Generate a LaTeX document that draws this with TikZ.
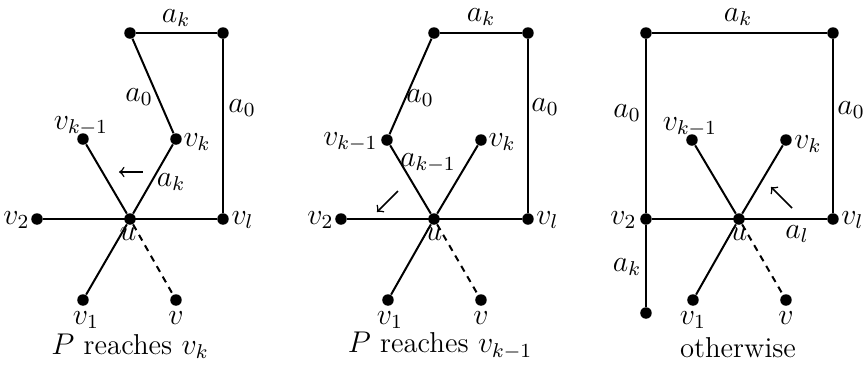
\documentclass[tikz,border=0pt]{standalone}
\usepackage{amsmath}
\usepackage{amssymb}
\usepackage{tikz}
\begin{document}
\begin{tikzpicture}[x=0.4pt,y=-0.4pt]
	 \tikzstyle{vertex}=[circle,fill=black,inner sep=0pt,minimum size=4.6pt]
	 \tikzstyle{edge} = [draw,thick,-,black]
	 \tikzstyle{dashedge} = [draw,thick,black,dash pattern=on 2.6pt off 2.2pt]
	 \tikzstyle{move} = [draw,semithick,->,black]
	 \tikzstyle{lbl} = [inner sep=0pt,font=\fontsize{12}{14}\selectfont]
	 \tikzstyle{caption} = [inner sep=0pt,font=\fontsize{11.5}{14}\selectfont]
	 \useasboundingbox (0,0) rectangle (863,374);
	 % P reaches v_k
	 \node[vertex] (ua) at (130,219) {};
	 \node[vertex] (v2a) at (37,219) {};
	 \node[vertex] (vla) at (223,219) {};
	 \node[vertex] (ta) at (130,33) {};
	 \node[vertex] (sa) at (223,33) {};
	 \node[vertex] (vka) at (176,139) {};
	 \node[vertex] (vkma) at (83,139) {};
	 \node[vertex] (v1a) at (83,300) {};
	 \node[vertex] (va) at (176,300) {};
	 \draw[edge] (ta) -- (sa) -- (vla);
	 \draw[edge] (ta) -- (vka) -- (ua);
	 \draw[edge] (vkma) -- (ua) -- (v1a);
	 \draw[edge] (v2a) -- (vla);
	 \draw[dashedge] (ua) -- (va);
	 \coordinate (pa) at (143,172);
	 \coordinate (qa) at (119,172);
	 \draw[move] (pa) -- (qa);
	 \node[lbl] (aka) at (176,18) {$a_k$};
	 \node[lbl] (a0a) at (139,97) {$a_0$};
	 \node[lbl] (a0ra) at (242,108) {$a_0$};
	 \node[lbl] (akla) at (171,182) {$a_k$};
	 \node[lbl] (tvkma) at (81,126) {$v_{k-1}$};
	 \node[lbl,anchor=west] (tvka) at (183,142) {$v_k$};
	 \node[lbl,anchor=east] (tv2a) at (30,220) {$v_2$};
	 \node[lbl,anchor=west] (tvla) at (231,220) {$v_l$};
	 \node[lbl] (tua) at (128,234) {$u$};
	 \node[lbl] (tv1a) at (86,320) {$v_1$};
	 \node[lbl] (tva) at (176,318) {$v$};
	 \node[caption] (capa) at (130,346) {$P$ reaches $v_k$};
	 % P reaches v_{k-1}
	 \node[vertex] (ub) at (434,219) {};
	 \node[vertex] (v2b) at (341,219) {};
	 \node[vertex] (vlb) at (528,219) {};
	 \node[vertex] (tb) at (434,33) {};
	 \node[vertex] (sb) at (528,33) {};
	 \node[vertex] (vkmb) at (387,140) {};
	 \node[vertex] (vkb) at (481,140) {};
	 \node[vertex] (v1b) at (388,300) {};
	 \node[vertex] (vb) at (481,300) {};
	 \draw[edge] (tb) -- (sb) -- (vlb);
	 \draw[edge] (tb) -- (vkmb) -- (ub);
	 \draw[edge] (vkb) -- (ub) -- (v1b);
	 \draw[edge] (v2b) -- (vlb);
	 \draw[dashedge] (ub) -- (vb);
	 \coordinate (pb) at (398,191);
	 \coordinate (qb) at (377,212);
	 \draw[move] (pb) -- (qb);
	 \node[lbl] (akb) at (481,17) {$a_k$};
	 \node[lbl] (a0b) at (420,98) {$a_0$};
	 \node[lbl] (a0rb) at (545,107) {$a_0$};
	 \node[lbl] (akmb) at (428,163) {$a_{k-1}$};
	 \node[lbl,anchor=east] (tvkmb) at (378,142) {$v_{k-1}$};
	 \node[lbl,anchor=west] (tvkb) at (488,142) {$v_k$};
	 \node[lbl,anchor=east] (tv2b) at (334,220) {$v_2$};
	 \node[lbl,anchor=west] (tvlb) at (536,220) {$v_l$};
	 \node[lbl] (tub) at (434,234) {$u$};
	 \node[lbl] (tv1b) at (390,320) {$v_1$};
	 \node[lbl] (tvb) at (481,318) {$v$};
	 \node[caption] (capb) at (440,346) {$P$ reaches $v_{k-1}$};
	 % otherwise
	 \node[vertex] (uc) at (739,219) {};
	 \node[vertex] (v2c) at (646,219) {};
	 \node[vertex] (vlc) at (833,219) {};
	 \node[vertex] (tc) at (646,33) {};
	 \node[vertex] (sc) at (833,33) {};
	 \node[vertex] (bc) at (646,313) {};
	 \node[vertex] (vkmc) at (692,140) {};
	 \node[vertex] (vkc) at (786,140) {};
	 \node[vertex] (v1c) at (693,300) {};
	 \node[vertex] (vc) at (786,300) {};
	 \draw[edge] (tc) -- (sc) -- (vlc);
	 \draw[edge] (tc) -- (v2c) -- (bc);
	 \draw[edge] (v2c) -- (vlc);
	 \draw[edge] (vkmc) -- (uc);
	 \draw[edge] (vkc) -- (uc) -- (v1c);
	 \draw[dashedge] (uc) -- (vc);
	 \coordinate (pc) at (792,208);
	 \coordinate (qc) at (771,187);
	 \draw[move] (pc) -- (qc);
	 \node[lbl] (akc) at (738,17) {$a_k$};
	 \node[lbl] (a0c) at (627,113) {$a_0$};
	 \node[lbl] (a0rc) at (851,110) {$a_0$};
	 \node[lbl] (alc) at (797,234) {$a_l$};
	 \node[lbl] (akbc) at (627,267) {$a_k$};
	 \node[lbl] (tvkmc) at (690,127) {$v_{k-1}$};
	 \node[lbl,anchor=west] (tvkc) at (794,144) {$v_k$};
	 \node[lbl,anchor=east] (tv2c) at (637,220) {$v_2$};
	 \node[lbl,anchor=west] (tvlc) at (841,220) {$v_l$};
	 \node[lbl] (tuc) at (739,234) {$u$};
	 \node[lbl] (tv1c) at (693,320) {$v_1$};
	 \node[lbl] (tvc) at (786,318) {$v$};
	 \node[caption] (capc) at (738,348) {otherwise};
 \end{tikzpicture}
\end{document}
